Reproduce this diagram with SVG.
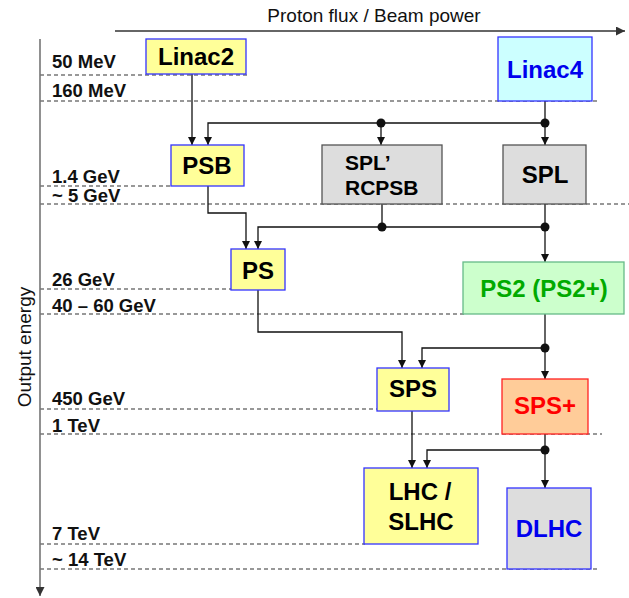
<svg xmlns="http://www.w3.org/2000/svg" width="629" height="598" viewBox="0 0 629 598">
<defs>
<marker id="ah" viewBox="0 0 10 10" refX="10" refY="5" markerWidth="8" markerHeight="8" markerUnits="userSpaceOnUse" orient="auto">
<path d="M0,0 L10,5 L0,10 Z" fill="#111"/>
</marker>
<marker id="ah2" viewBox="0 0 10 10" refX="10" refY="5" markerWidth="9" markerHeight="9" markerUnits="userSpaceOnUse" orient="auto">
<path d="M0,0 L10,5 L0,10 Z" fill="#333"/>
</marker>
</defs>
<style>
.dash{stroke:#777;stroke-width:1.3;stroke-dasharray:4 3;fill:none}
.lbl{font-family:"Liberation Sans",Arial,sans-serif;font-weight:bold;font-size:18.5px;fill:#111}
.ax{font-family:"Liberation Sans",Arial,sans-serif;font-size:19px;fill:#111}
.nt{font-family:"Liberation Sans",Arial,sans-serif;font-weight:bold;font-size:24px;text-anchor:middle}
.c{stroke:#111;stroke-width:1.3;fill:none}
.ca{stroke:#111;stroke-width:1.3;fill:none;marker-end:url(#ah)}
.yel{fill:#FFFF99;stroke:#3333FF;stroke-width:1.3}
.gry{fill:#DDDDDD;stroke:#555;stroke-width:1.3}
</style>
<rect width="629" height="598" fill="#fff"/>
<g id="axes">
<line x1="115" y1="31" x2="625" y2="31" stroke="#333" stroke-width="1.3" marker-end="url(#ah2)"/>
<text class="ax" x="374" y="22" text-anchor="middle">Proton flux / Beam power</text>
<line x1="40" y1="39" x2="40" y2="596" stroke="#555" stroke-width="1.3" marker-end="url(#ah2)"/>
<text class="ax" transform="translate(31,347) rotate(-90)" text-anchor="middle">Output energy</text>
</g>
<g id="levels">
<line class="dash" x1="40" y1="75" x2="250" y2="75"/>
<line class="dash" x1="40" y1="101" x2="597" y2="101"/>
<line class="dash" x1="40" y1="186" x2="172" y2="186"/>
<line class="dash" x1="40" y1="204" x2="629" y2="204"/>
<line class="dash" x1="40" y1="289" x2="232" y2="289"/>
<line class="dash" x1="40" y1="314" x2="464" y2="314"/>
<line class="dash" x1="40" y1="409" x2="378" y2="409"/>
<line class="dash" x1="40" y1="434" x2="602" y2="434"/>
<line class="dash" x1="40" y1="544" x2="365" y2="544"/>
<line class="dash" x1="40" y1="569" x2="600" y2="569"/>
<text class="lbl" x="52" y="68">50 MeV</text>
<text class="lbl" x="52" y="97">160 MeV</text>
<text class="lbl" x="52" y="183">1.4 GeV</text>
<text class="lbl" x="52" y="202">~ 5 GeV</text>
<text class="lbl" x="52" y="286">26 GeV</text>
<text class="lbl" x="52" y="312">40 – 60 GeV</text>
<text class="lbl" x="52" y="405">450 GeV</text>
<text class="lbl" x="52" y="432">1 TeV</text>
<text class="lbl" x="52" y="540">7 TeV</text>
<text class="lbl" x="52" y="566">~ 14 TeV</text>
</g>
<g id="connectors">
<line class="ca" x1="192" y1="74" x2="192" y2="145"/>
<line class="c" x1="545" y1="101" x2="545" y2="123"/>
<polyline class="ca" points="545,123 208,123 208,145"/>
<line class="ca" x1="381" y1="123" x2="381" y2="145"/>
<line class="ca" x1="545" y1="123" x2="545" y2="145"/>
<polyline class="ca" points="208,186 208,213 246,213 246,249"/>
<line class="c" x1="382" y1="204" x2="382" y2="227"/>
<line class="c" x1="545" y1="204" x2="545" y2="227"/>
<polyline class="ca" points="545,227 258,227 258,249"/>
<line class="ca" x1="545" y1="227" x2="545" y2="262"/>
<polyline class="ca" points="258,290 258,332 402,332 402,368"/>
<line class="c" x1="545" y1="314" x2="545" y2="348"/>
<polyline class="ca" points="545,348 422,348 422,368"/>
<line class="ca" x1="545" y1="348" x2="545" y2="379"/>
<line class="ca" x1="412" y1="411" x2="412" y2="468"/>
<line class="c" x1="545" y1="434" x2="545" y2="450"/>
<polyline class="ca" points="545,450 427,450 427,468"/>
<line class="ca" x1="545" y1="450" x2="545" y2="488"/>
<circle cx="381" cy="123" r="4.5" fill="#111"/>
<circle cx="545" cy="123" r="4.5" fill="#111"/>
<circle cx="382" cy="227" r="4.5" fill="#111"/>
<circle cx="545" cy="227" r="4.5" fill="#111"/>
<circle cx="545" cy="348" r="4.5" fill="#111"/>
<circle cx="545" cy="450" r="4.5" fill="#111"/>
</g>
<g id="linac2"><rect class="yel" x="146" y="39" width="100" height="35"/><text class="nt" x="196" y="65" fill="#000">Linac2</text></g>
<g id="linac4"><rect x="498" y="37" width="94" height="64" fill="#CCFFFF" stroke="#3333FF" stroke-width="1.3"/><text class="nt" x="545" y="78" fill="#0000EE">Linac4</text></g>
<g id="psb"><rect class="yel" x="171" y="145" width="73" height="41"/><text class="nt" x="207" y="174" fill="#000">PSB</text></g>
<g id="splp"><rect class="gry" x="322" y="145" width="120" height="59"/><text class="nt" x="345" y="170" fill="#000" style="text-anchor:start;font-size:21px">SPL’</text><text class="nt" x="345" y="195" fill="#000" style="text-anchor:start;font-size:21px">RCPSB</text></g>
<g id="spl"><rect class="gry" x="503" y="145" width="83" height="59"/><text class="nt" x="545" y="183" fill="#000">SPL</text></g>
<g id="ps"><rect class="yel" x="231" y="249" width="54" height="41"/><text class="nt" x="258" y="279" fill="#000">PS</text></g>
<g id="ps2"><rect x="463" y="262" width="161" height="52" fill="#CCFFCC" stroke="#66BB88" stroke-width="1.3"/><text class="nt" x="544" y="297" fill="#00AA00">PS2 (PS2+)</text></g>
<g id="sps"><rect class="yel" x="377" y="368" width="72" height="43"/><text class="nt" x="413" y="397" fill="#000">SPS</text></g>
<g id="spsplus"><rect x="502" y="379" width="86" height="55" fill="#FFCC99" stroke="#FF2222" stroke-width="1.3"/><text class="nt" x="545" y="414" fill="#FF0000">SPS+</text></g>
<g id="lhc"><rect class="yel" x="364" y="468" width="114" height="76"/><text class="nt" x="420" y="500" fill="#000">LHC /</text><text class="nt" x="421" y="530" fill="#000">SLHC</text></g>
<g id="dlhc"><rect x="507" y="488" width="84" height="81" fill="#DDDDDD" stroke="#3333FF" stroke-width="1.3"/><text class="nt" x="549" y="537" fill="#0000EE">DLHC</text></g>
</svg>
